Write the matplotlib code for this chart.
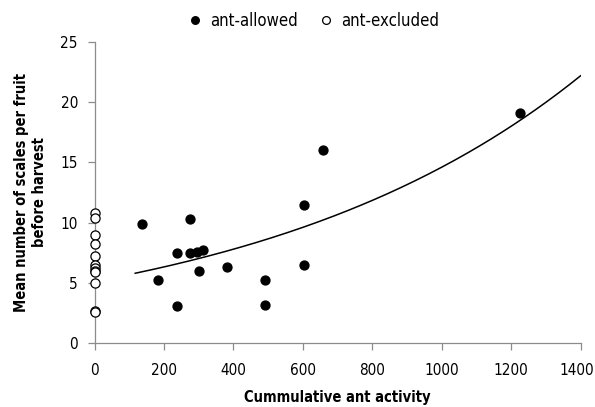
import numpy as np
import matplotlib.pyplot as plt
from matplotlib.transforms import ScaledTranslation

plt.rcParams['font.family'] = ['DejaVu Sans']
plt.rcParams['font.stretch'] = 'condensed'

# ant-allowed trees: cumulative ant activity vs mean scales per fruit
allowed_x = [136, 184, 236, 236, 276, 276, 294, 313, 302, 380, 490, 490, 604, 604, 658, 1226]
allowed_y = [9.9, 5.2, 7.5, 3.1, 10.3, 7.5, 7.6, 7.7, 5.95, 6.3, 5.2, 3.2, 11.5, 6.5, 16.0, 19.1]

# ant-excluded trees (no ant activity)
excluded_x = [0] * 12
excluded_y = [10.8, 10.4, 9.0, 8.2, 7.2, 6.5, 6.2, 6.0, 5.9, 5.0, 2.7, 2.6]

# exponential trendline y = a * exp(b * x)
trend_a = 5.13
trend_b = 0.001046
trend_start, trend_end = 117, 1400

fig = plt.figure(figsize=(5.95, 4.07), dpi=100)
ax = fig.add_axes([0.159, 0.157, 0.8167, 0.74])

xs = np.linspace(trend_start, trend_end, 200)
ax.plot(xs, trend_a * np.exp(trend_b * xs), color='black', lw=1.1, zorder=2)

ax.plot(allowed_x, allowed_y, 'o', color='black', ms=6.4, label='ant-allowed', zorder=3, clip_on=False)
ax.plot(excluded_x, excluded_y, 'o', mfc='white', mec='black', mew=0.9, ms=6.6,
        label='ant-excluded', zorder=3, clip_on=False)

ax.set_xlim(0, 1400)
ax.set_ylim(0, 25)
ax.set_xticks(range(0, 1401, 200))
ax.set_yticks(range(0, 26, 5))

for s in ['top', 'right']:
    ax.spines[s].set_visible(False)
for s in ['left', 'bottom']:
    ax.spines[s].set_color('#8c8c8c')
    ax.spines[s].set_linewidth(0.9)
ax.tick_params(direction='out', length=5, width=0.9, color='#8c8c8c', labelsize=11)
ax.tick_params(axis='x', pad=9)
ax.tick_params(axis='y', pad=7)

# keep the last x label inside the figure
fig.canvas.draw()
last = ax.get_xticklabels()[-1]
last.set_transform(last.get_transform() + ScaledTranslation(-4 / 100, 0, fig.dpi_scale_trans))

ax.set_xlabel('Cummulative ant activity', fontsize=10.5, fontweight='bold', labelpad=9)
ax.set_ylabel('Mean number of scales per fruit\nbefore harvest', fontsize=10.5, fontweight='bold', labelpad=10)

leg = ax.legend(loc='center', bbox_to_anchor=(0.45, 1.07), ncol=2, frameon=False,
                fontsize=12, markerscale=0.85, handletextpad=0.4, columnspacing=1.2, handlelength=1.0)

fig.savefig('out.png', dpi=100)
